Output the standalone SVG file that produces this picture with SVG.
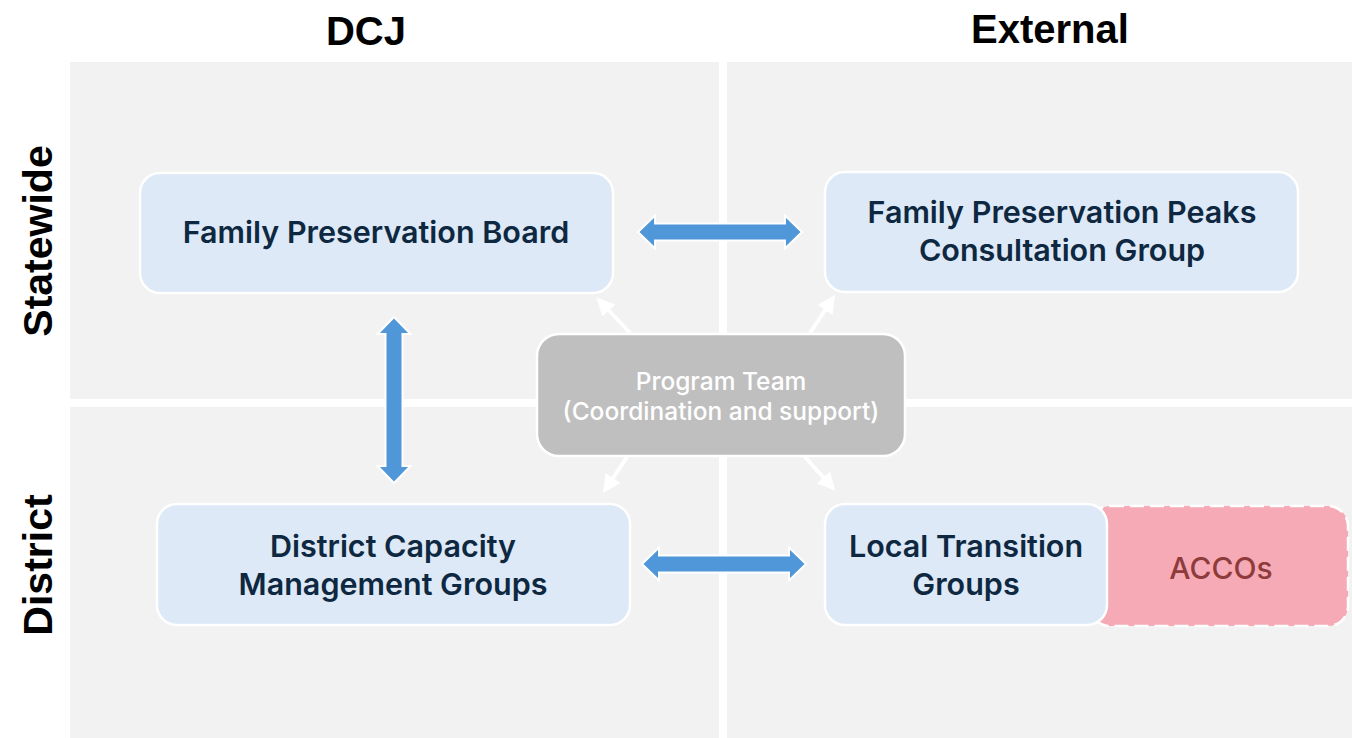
<svg xmlns="http://www.w3.org/2000/svg" width="1352" height="738" viewBox="0 0 1352 738">
  <defs>
    <style>
      .panel { fill: #f2f2f2; }
      .head { font-family: "Liberation Sans", Arial, sans-serif; font-weight: bold; font-size: 40px; fill: #000; text-anchor: middle; }
      .side { font-size: 41px; }
      .box { fill: #dde9f6; stroke: #ffffff; stroke-width: 2.5; }
      .label { font-family: Inter, "Noto Sans", sans-serif; font-weight: 600; font-size: 30.5px; fill: #0e2841; text-anchor: middle; }
      .team { fill: #bfbfbf; stroke: #ffffff; stroke-width: 2.5; }
      .team-label { font-family: Inter, "Noto Sans", sans-serif; font-weight: 500; font-size: 24.5px; fill: #ffffff; text-anchor: middle; }
      .acco { fill: #f6aab6; stroke: #ffffff; stroke-width: 2.5; stroke-dasharray: 14 6; }
      .acco-label { font-family: Inter, "Noto Sans", sans-serif; font-weight: 500; font-size: 30px; fill: #8e3b3b; text-anchor: middle; }
      .dbl { fill: #4f97d9; stroke: #ffffff; stroke-width: 2; stroke-linejoin: miter; }
      .link { stroke: #ffffff; stroke-width: 4; fill: none; }
    </style>
    <marker id="wh" viewBox="0 0 10 10" refX="8" refY="5" markerWidth="4.5" markerHeight="4.5" orient="auto" markerUnits="strokeWidth">
      <path d="M0,0 L10,5 L0,10 Z" fill="#ffffff"/>
    </marker>
  </defs>

  <rect width="1352" height="738" fill="#ffffff"/>

  <!-- quadrant panels -->
  <g id="panels">
    <rect class="panel" x="70" y="62" width="649" height="337"/>
    <rect class="panel" x="727" y="62" width="625" height="337"/>
    <rect class="panel" x="70" y="407" width="649" height="331"/>
    <rect class="panel" x="727" y="407" width="625" height="331"/>
  </g>

  <!-- axis headings -->
  <g id="headings">
    <text class="head" x="366" y="45">DCJ</text>
    <text class="head" x="1050" y="43">External</text>
    <text class="head side" transform="translate(52,241) rotate(-90)">Statewide</text>
    <text class="head side" transform="translate(52,565) rotate(-90)">District</text>
  </g>

  <!-- connectors -->
  <g id="connectors">
    <line class="link" x1="630" y1="333" x2="599" y2="300" marker-end="url(#wh)"/>
    <line class="link" x1="810" y1="333" x2="833" y2="298" marker-end="url(#wh)"/>
    <line class="link" x1="627" y1="457" x2="605" y2="490" marker-end="url(#wh)"/>
    <line class="link" x1="805" y1="457" x2="833" y2="488" marker-end="url(#wh)"/>

    <!-- board <-> peaks group -->
    <path class="dbl" d="M638,232 L655,215.5 L655,223.5 L785,223.5 L785,215.5 L802,232 L785,248.5 L785,240.5 L655,240.5 L655,248.5 Z"/>
    <!-- capacity groups <-> local transition groups -->
    <path class="dbl" d="M642,564 L659,547.5 L659,555.5 L789,555.5 L789,547.5 L806,564 L789,580.5 L789,572.5 L659,572.5 L659,580.5 Z"/>
    <!-- board <-> capacity groups -->
    <path class="dbl" d="M394,317 L410.5,334 L402.5,334 L402.5,466 L410.5,466 L394,483 L377.5,466 L385.5,466 L385.5,334 L377.5,334 Z"/>
  </g>

  <!-- nodes -->
  <g id="board">
    <rect class="box" x="140" y="173" width="473" height="120" rx="20"/>
    <text class="label" x="376" y="243">Family Preservation Board</text>
  </g>

  <g id="peaks">
    <rect class="box" x="825" y="172" width="473" height="120" rx="20"/>
    <text class="label" x="1062" y="223">Family Preservation Peaks</text>
    <text class="label" x="1062" y="261">Consultation Group</text>
  </g>

  <g id="accos">
    <rect class="acco" x="1090" y="506" width="258" height="120" rx="20"/>
    <text class="acco-label" x="1221" y="579">ACCOs</text>
  </g>

  <g id="capacity">
    <rect class="box" x="157" y="504" width="473" height="121" rx="20"/>
    <text class="label" x="393" y="557">District Capacity</text>
    <text class="label" x="393" y="595">Management Groups</text>
  </g>

  <g id="transition">
    <rect class="box" x="825" y="504" width="282" height="121" rx="20"/>
    <text class="label" x="966" y="557">Local Transition</text>
    <text class="label" x="966" y="595">Groups</text>
  </g>

  <g id="program-team">
    <rect class="team" x="537" y="334" width="368" height="122" rx="22"/>
    <text class="team-label" x="721" y="390">Program Team</text>
    <text class="team-label" x="721" y="420">(Coordination and support)</text>
  </g>
</svg>
